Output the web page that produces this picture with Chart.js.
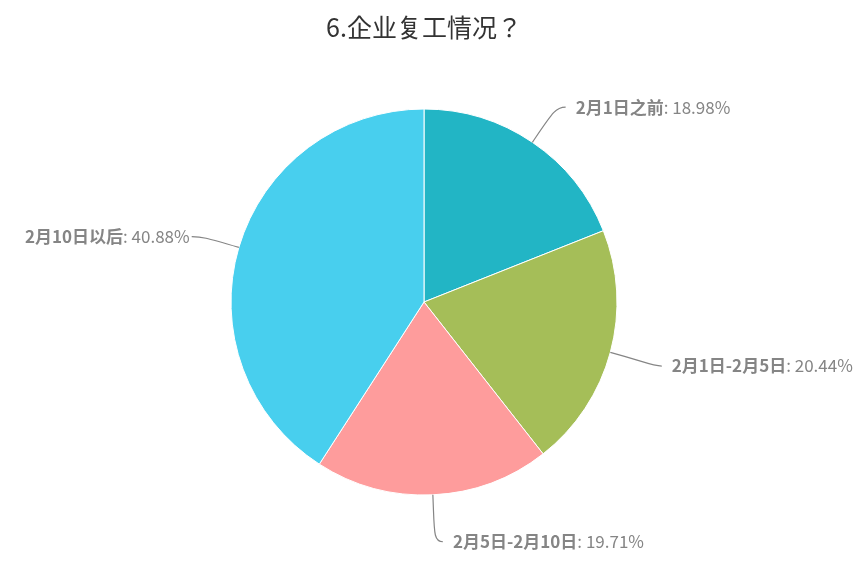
<!DOCTYPE html>
<html>
<head>
<meta charset="utf-8">
<script src="https://cdn.jsdelivr.net/npm/chart.js@4.4.1/dist/chart.umd.min.js"></script>
<style>
  html, body { margin: 0; padding: 0; background: #fff; }
  #wrap { width: 865px; height: 577px; }
</style>
</head>
<body>
<div id="wrap"><canvas id="pieChart"></canvas></div>
<script>
const categories = ["2月1日之前", "2月1日-2月5日", "2月5日-2月10日", "2月10日以后"];
const shares = [18.98, 20.44, 19.71, 40.88];
const colors = ["#22b5c5", "#a5be58", "#fe9c9c", "#48cfee"];

const FONT = "'Noto Sans CJK SC', 'Noto Sans', sans-serif";

// draws Highcharts-style data labels with soft connectors
const pieLabels = {
  id: "pieLabels",
  afterDatasetsDraw(chart) {
    const ctx = chart.ctx;
    const arcs = chart.getDatasetMeta(0).data;
    ctx.save();
    arcs.forEach(function (arc, i) {
      const mid = (arc.startAngle + arc.endAngle) / 2;
      const r = arc.outerRadius;
      const cos = Math.cos(mid), sin = Math.sin(mid);
      const ex = arc.x + r * cos, ey = arc.y + r * sin;
      const d = 45;
      const ax = arc.x + (r + d) * cos, ay = arc.y + (r + d) * sin;
      const right = ax >= arc.x;
      const tx = right ? ax + 18 : ax - 6;
      const ty = ay + 2;
      const endX = right ? tx - 10 : tx + 2;

      ctx.strokeStyle = "#858585";
      ctx.lineWidth = 1.2;
      ctx.beginPath();
      ctx.moveTo(ex, ey);
      ctx.bezierCurveTo(
        arc.x + (r + d * 0.8) * cos, arc.y + (r + d * 0.8) * sin,
        right ? endX - 10 : endX + 10, ty,
        endX, ty
      );
      ctx.stroke();

      const name = categories[i];
      const val = ": " + shares[i].toFixed(2) + "%";
      ctx.textBaseline = "middle";
      ctx.fillStyle = "#858585";
      ctx.font = "bold 17px " + FONT;
      const w1 = ctx.measureText(name).width;
      ctx.font = "17px " + FONT;
      const w2 = ctx.measureText(val).width;
      const x0 = right ? tx : tx - w1 - w2;
      ctx.font = "bold 17px " + FONT;
      ctx.textAlign = "left";
      ctx.fillText(name, x0, ty);
      ctx.font = "17px " + FONT;
      ctx.fillText(val, x0 + w1, ty);
    });
    ctx.restore();
  }
};

document.addEventListener("DOMContentLoaded", function () {
  const ctxPie = document.getElementById("pieChart");
  new Chart(ctxPie.getContext("2d"), {
    type: "pie",
    data: {
      labels: categories,
      datasets: [
        {
          data: shares,
          backgroundColor: colors,
          borderColor: "#ffffff",
          borderWidth: 1,
          hoverOffset: 0,
          offset: 0,
        },
      ],
    },
    options: {
      responsive: true,
      maintainAspectRatio: false,
      animation: false,
      layout: {
        padding: { top: 0, bottom: 81.5, left: 100, right: 117 },
      },
      plugins: {
        legend: { display: false },
        tooltip: { enabled: false },
        title: {
          display: true,
          text: "6.企业复工情况？",
          color: "#333333",
          font: { family: "'Noto Sans CJK JP', 'Noto Sans CJK SC', sans-serif", size: 25, weight: "normal" },
          padding: { top: 12, bottom: 66.5 },
        },
      },
    },
    plugins: [pieLabels],
  });
});
</script>
</body>
</html>
